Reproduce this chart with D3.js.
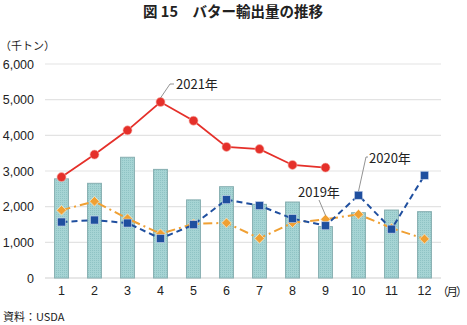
<!DOCTYPE html>
<html><head><meta charset="utf-8">
<script src="https://cdn.jsdelivr.net/npm/d3@7"></script>
<style>
body{margin:0;background:#fff;}
svg{display:block;font-family:"Liberation Sans","Noto Sans CJK JP",sans-serif;}
.jp{font-family:"Noto Sans CJK JP",sans-serif;}
</style></head>
<body><svg id="c" width="467" height="325"></svg>
<script>
const months = [1,2,3,4,5,6,7,8,9,10,11,12];
const barValues = [2780,2655,3385,3045,2190,2560,2065,2130,1440,1830,1905,1860];
const y2021 = [2830,3460,4140,4935,4410,3675,3615,3170,3095];
const y2020 = [1570,1625,1540,1105,1495,2195,2030,1665,1465,2320,1370,2880];
const y2019 = [1900,2150,1665,1240,1520,1545,1110,1550,1645,1785,1400,1095];
const yTicks = [0,1000,2000,3000,4000,5000,6000];

const svg = d3.select("#c");
const m = {l:45, r:26, t:64, b:47};
const W = 467, H = 325;
const x = d3.scaleBand().domain(months).range([m.l, W-m.r]).paddingInner(0.58).paddingOuter(0.29);
const y = d3.scaleLinear().domain([0,6000]).range([278,64]);
const cx = d => x(d) + x.bandwidth()/2;

// title
svg.append("text").attr("class","jp").attr("x",233).attr("y",17).attr("text-anchor","middle")
  .attr("font-size",14.5).attr("font-weight","bold").attr("fill","#222").text("図 15　バター輸出量の推移");
svg.append("text").attr("class","jp").attr("x",0).attr("y",50).attr("font-size",11).attr("fill","#222").text("（千トン）");

// grid
svg.append("g").selectAll("line").data(yTicks).join("line")
  .attr("x1",45).attr("x2",441).attr("y1",d=>y(d)).attr("y2",d=>y(d))
  .attr("stroke",d=>d===0?"#d0d0d0":"#e3e3e3").attr("stroke-width",1.2);

// y axis
const ya = svg.append("g").attr("transform","translate(38,0)")
  .call(d3.axisLeft(y).tickValues(yTicks).tickFormat(d3.format(",")).tickSize(0).tickPadding(5));
ya.select(".domain").remove();
ya.selectAll("text").attr("font-size",12.5).attr("fill","#222").attr("font-family","Liberation Sans, sans-serif").attr("x",-4);

// x axis
const xa = svg.append("g").attr("transform","translate(0,284)")
  .call(d3.axisBottom(x).tickSize(0).tickPadding(2));
xa.select(".domain").remove();
xa.selectAll("text").attr("font-size",12.5).attr("fill","#222").attr("font-family","Liberation Sans, sans-serif");
svg.append("text").attr("class","jp").attr("x",437).attr("y",296).attr("font-size",11.5)
  .attr("letter-spacing","-2px").attr("fill","#222").text("（月）");

// pattern for bars
const defs = svg.append("defs");
const pat = defs.append("pattern").attr("id","dots").attr("width",2).attr("height",2).attr("patternUnits","userSpaceOnUse");
pat.append("rect").attr("width",2).attr("height",2).attr("fill","#a6d4d4");
pat.append("rect").attr("width",1).attr("height",1).attr("fill","#8fc3c4");

svg.append("g").selectAll("rect").data(barValues).join("rect")
  .attr("x",(d,i)=>x(months[i])).attr("width",x.bandwidth())
  .attr("y",d=>y(d)).attr("height",d=>y(0)-y(d))
  .attr("fill","url(#dots)").attr("stroke","#86aeb0").attr("stroke-width",1);

const line = d3.line().x((d,i)=>cx(months[i])).y(d=>y(d));

// 2019
svg.append("path").datum(y2019).attr("d",line).attr("fill","none")
  .attr("stroke","#f0a033").attr("stroke-width",2).attr("stroke-dasharray","9,4,2,4");
svg.append("g").selectAll("path").data(y2019).join("path")
  .attr("d",d3.symbol(d3.symbolDiamond2 || d3.symbolDiamond, 60))
  .attr("transform",(d,i)=>`translate(${cx(months[i])},${y(d)})`)
  .attr("fill","#f0a033").attr("stroke","#fde6c2").attr("stroke-width",0.8);

// 2020
svg.append("path").datum(y2020).attr("d",line).attr("fill","none")
  .attr("stroke","#1f4f9f").attr("stroke-width",2).attr("stroke-dasharray","6,4");
svg.append("g").selectAll("rect").data(y2020).join("rect")
  .attr("x",(d,i)=>cx(months[i])-4).attr("y",d=>y(d)-4).attr("width",8).attr("height",8)
  .attr("fill","#1f4f9f").attr("stroke","#c8d4ea").attr("stroke-width",0.6);

// 2021
svg.append("path").datum(y2021).attr("d",line).attr("fill","none")
  .attr("stroke","#e5302a").attr("stroke-width",1.8);
svg.append("g").selectAll("circle").data(y2021).join("circle")
  .attr("cx",(d,i)=>cx(months[i])).attr("cy",d=>y(d)).attr("r",4.5)
  .attr("fill","#e5302a").attr("stroke","#f7b0a8").attr("stroke-width",0.6);

// annotations
const ann = svg.append("g").attr("class","jp").attr("font-size",13).attr("fill","#222");
function leader(x1,y1,x2,y2,x3){
  svg.append("polyline").attr("points",`${x1},${y1} ${x2},${y2} ${x3},${y2}`)
    .attr("fill","none").attr("stroke","#777").attr("stroke-width",0.8);
}
leader(cx(4),y(y2021[3])-4,170,84,174);
ann.append("text").attr("x",176).attr("y",89).text("2021年");
leader(cx(10),y(y2020[9])-4,366,157,368);
ann.append("text").attr("x",369).attr("y",163).text("2020年");
leader(cx(9),y(y2019[8])-4,319,200,319);
ann.append("text").attr("x",298).attr("y",197).text("2019年");

svg.append("text").attr("class","jp").attr("x",3).attr("y",321).attr("font-size",11).attr("fill","#222").text("資料：USDA");
</script></body></html>
